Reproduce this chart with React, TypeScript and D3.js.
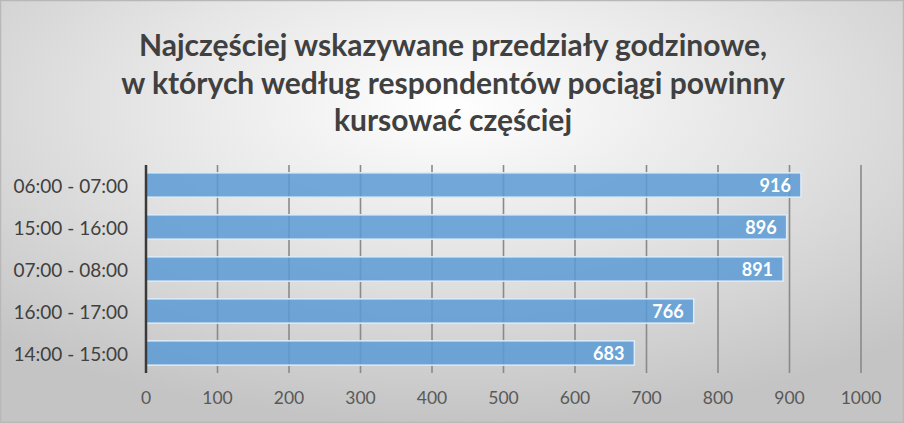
import React from "react";
import * as d3 from "d3";

const categories = ["06:00 - 07:00", "15:00 - 16:00", "07:00 - 08:00", "16:00 - 17:00", "14:00 - 15:00"];
const values = [916, 896, 891, 766, 683];
const xTicks = [0, 100, 200, 300, 400, 500, 600, 700, 800, 900, 1000];
const titleLines = [
  "Najczęściej wskazywane przedziały godzinowe,",
  "w których według respondentów pociągi powinny",
  "kursować częściej",
];

const W = 904;
const H = 423;
const FONT = "Lato, 'Open Sans', sans-serif";

export default function App() {
  const x = d3.scaleLinear().domain([0, 1000]).range([146, 861]);
  const y = d3.scaleBand<string>().domain(categories).range([164, 374]).paddingInner(0.42).paddingOuter(0.21);
  return (
    <svg width={W} height={H} style={{ position: "absolute", left: 0, top: 0 }}>
      <defs>
        <radialGradient id="bg" cx="50%" cy="25%" r="75%" fx="50%" fy="25%">
          <stop offset="0" stopColor="#ffffff" />
          <stop offset="0.45" stopColor="#e6e6e6" />
          <stop offset="1" stopColor="#c4c4c4" />
        </radialGradient>
      </defs>
      <rect x={0.5} y={0.5} width={W - 1} height={H - 1} fill="url(#bg)" stroke="#b8b8b8" strokeWidth={1.5} />
      {titleLines.map((t, i) => (
        <text key={i} x={453} y={44 + i * 37.5} textAnchor="middle" dominantBaseline="central"
          fontFamily={FONT} fontWeight={700} fontSize={30} fill="#404040">{t}</text>
      ))}
      {xTicks.slice(1).map((t) => (
        <line key={t} x1={x(t)} x2={x(t)} y1={165} y2={373} stroke="#8a8a8a" strokeWidth={1.6} />
      ))}
      {categories.map((c, i) => (
        <g key={c}>
          <rect x={x(0)} y={y(c)!} width={x(values[i]) - x(0)} height={y.bandwidth()}
            fill="#5b9bd5" fillOpacity={0.85} stroke="#ddebf7" strokeWidth={1.5} />
          <text x={x(values[i]) - 10} y={y(c)! + y.bandwidth() / 2} textAnchor="end" dominantBaseline="central"
            fontFamily={FONT} fontWeight={700} fontSize={18} fill="#ffffff">{values[i]}</text>
          <text x={128} y={y(c)! + y.bandwidth() / 2} textAnchor="end" dominantBaseline="central"
            fontFamily={FONT} fontSize={19} fill="#404040">{c}</text>
        </g>
      ))}
      <line x1={x(0)} x2={x(0)} y1={165} y2={373} stroke="#3a3a3a" strokeWidth={2.5} />
      {xTicks.map((t) => (
        <text key={t} x={x(t)} y={397} textAnchor="middle" dominantBaseline="central"
          fontFamily={FONT} fontSize={17.5} fill="#595959">{t}</text>
      ))}
    </svg>
  );
}
